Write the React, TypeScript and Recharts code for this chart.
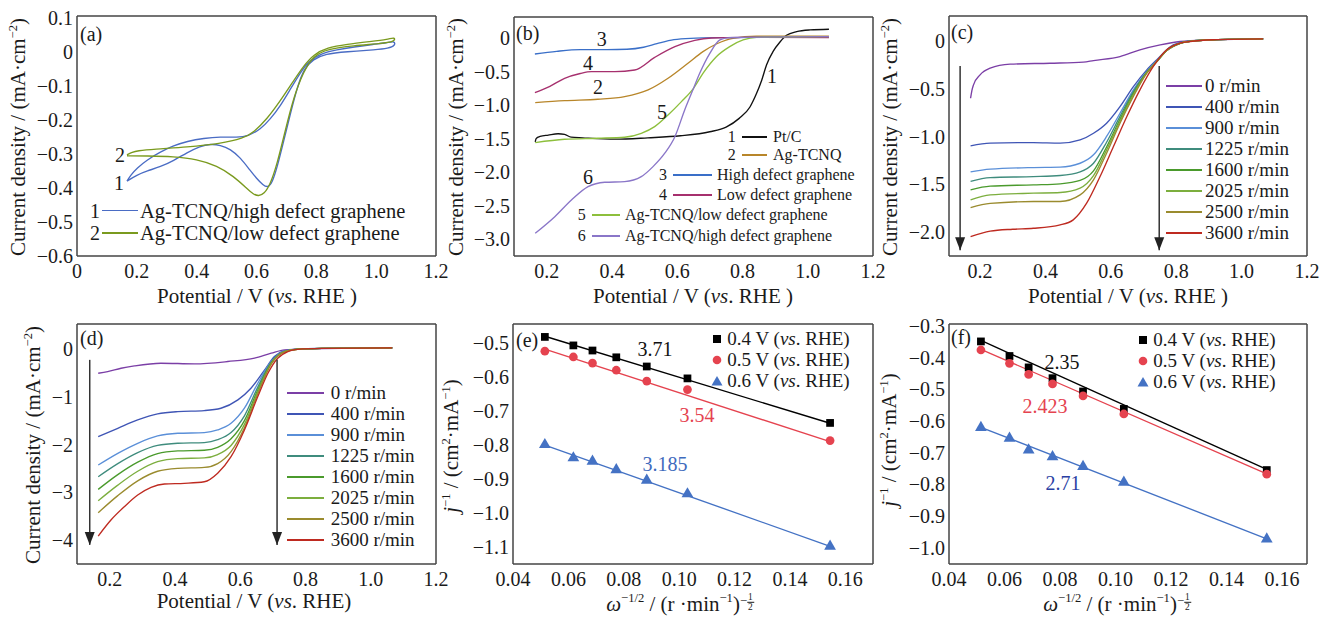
import React from "react";
import {
  LineChart,
  ComposedChart,
  Line,
  Scatter,
  XAxis,
  YAxis,
  ZAxis,
  ReferenceLine,
  ReferenceDot,
} from "recharts";

const SERIF = '"Liberation Serif", "Times New Roman", Times, serif';
const INK = "#1a1a1a";
const FRAME = "#444444";
const YW = 70; // left axis width
const TOPM = 10;
const RIGHTM = 22;
const XH = 40;

// ---------- (a) cyclic voltammograms, [potential V, j mA/cm2], loop order ----------
const cvHighDefect = [
  [0.167, -0.38], [0.18, -0.362], [0.2, -0.342], [0.234, -0.318], [0.279, -0.294], [0.323, -0.276],
  [0.368, -0.263], [0.424, -0.254], [0.479, -0.25], [0.535, -0.252], [0.574, -0.247], [0.613, -0.228],
  [0.646, -0.198], [0.68, -0.159], [0.713, -0.11], [0.747, -0.061], [0.774, -0.027], [0.813, -0.006],
  [0.869, 0.006], [0.925, 0.014], [0.992, 0.022], [1.036, 0.026], [1.062, 0.032],
  [1.064, 0.018], [1.04, 0.01], [1.0, 0.006], [0.9, 0.0], [0.83, -0.006], [0.79, -0.022],
  [0.758, -0.05], [0.736, -0.105], [0.713, -0.183], [0.691, -0.262], [0.669, -0.34], [0.652, -0.386],
  [0.638, -0.399], [0.622, -0.392], [0.6, -0.372], [0.58, -0.35], [0.546, -0.311], [0.513, -0.286],
  [0.479, -0.274], [0.446, -0.271], [0.412, -0.277], [0.368, -0.296], [0.323, -0.32], [0.279, -0.338],
  [0.234, -0.35], [0.2, -0.362], [0.167, -0.38],
];
const cvLowDefect = [
  [0.167, -0.303], [0.185, -0.295], [0.201, -0.291], [0.256, -0.286], [0.368, -0.28], [0.479, -0.27],
  [0.557, -0.254], [0.59, -0.237], [0.635, -0.198], [0.68, -0.144], [0.724, -0.085], [0.758, -0.041],
  [0.791, -0.008], [0.836, 0.012], [0.902, 0.022], [0.981, 0.03], [1.04, 0.036], [1.062, 0.043],
  [1.064, 0.03], [1.014, 0.024], [0.925, 0.018], [0.836, 0.008], [0.791, -0.012], [0.758, -0.056],
  [0.724, -0.134], [0.696, -0.232], [0.669, -0.33], [0.646, -0.39], [0.625, -0.418], [0.607, -0.424],
  [0.59, -0.419], [0.568, -0.402], [0.524, -0.366], [0.468, -0.335], [0.401, -0.316], [0.323, -0.308],
  [0.234, -0.306], [0.167, -0.306],
];
const cvNames = ["Ag-TCNQ/high defect graphene", "Ag-TCNQ/low defect graphene"];
const cvTags = ["1", "2"];
const cvColors = ["#4a6cc4", "#7a9a1e"];

// ---------- (b) LSV of the six electrodes ----------
const lsvPtC = [
  [0.165, -1.55], [0.168, -1.5], [0.18, -1.47], [0.205, -1.45], [0.235, -1.43], [0.255, -1.44],
  [0.275, -1.48], [0.31, -1.49], [0.41, -1.51], [0.51, -1.49], [0.61, -1.46], [0.7, -1.4],
  [0.75, -1.33], [0.79, -1.2], [0.823, -1.03], [0.843, -0.83], [0.859, -0.63], [0.874, -0.4],
  [0.894, -0.2], [0.915, -0.06], [0.935, 0.04], [0.966, 0.095], [1.007, 0.12], [1.065, 0.13],
];
const lsvAgTcnq = [
  [0.165, -0.965], [0.255, -0.935], [0.357, -0.915], [0.439, -0.876], [0.511, -0.776], [0.572, -0.602],
  [0.633, -0.378], [0.679, -0.204], [0.72, -0.09], [0.771, -0.005], [0.843, 0.025], [1.065, 0.025],
];
const lsvHighDefect = [
  [0.164, -0.239], [0.231, -0.199], [0.303, -0.174], [0.385, -0.174], [0.446, -0.169], [0.497, -0.139],
  [0.538, -0.085], [0.59, -0.025], [0.641, -0.005], [0.744, 0.005], [1.065, 0.015],
];
const lsvLowDefect = [
  [0.164, -0.816], [0.21, -0.721], [0.255, -0.602], [0.303, -0.53], [0.337, -0.502], [0.409, -0.502],
  [0.47, -0.478], [0.531, -0.29], [0.593, -0.13], [0.654, -0.035], [0.705, 0.0], [0.8, 0.01], [1.065, 0.005],
];
const lsvAgLow = [
  [0.165, -1.562], [0.255, -1.512], [0.357, -1.497], [0.439, -1.482], [0.49, -1.423], [0.531, -1.323],
  [0.572, -1.149], [0.613, -0.95], [0.65, -0.751], [0.68, -0.52], [0.72, -0.279], [0.761, -0.129],
  [0.802, -0.03], [0.843, 0.01], [1.065, 0.02],
];
const lsvAgHigh = [
  [0.165, -2.915], [0.225, -2.667], [0.276, -2.418], [0.327, -2.219], [0.378, -2.154], [0.439, -2.144],
  [0.49, -2.07], [0.526, -1.92], [0.562, -1.72], [0.593, -1.473], [0.623, -1.075], [0.646, -0.8],
  [0.669, -0.527], [0.7, -0.229], [0.731, -0.03], [0.761, 0.005], [1.065, 0.02],
];
const lsvNames = [
  "Pt/C", "Ag-TCNQ", "High defect graphene", "Low defect graphene",
  "Ag-TCNQ/low defect graphene", "Ag-TCNQ/high defect graphene",
];
const lsvTags = ["1", "2", "3", "4", "5", "6"];
const lsvColors = ["#111111", "#b8862a", "#3a6fc8", "#a6306e", "#8dbf3c", "#8a76c8"];

// ---------- (c) Ag-TCNQ/low defect graphene at rotation rates ----------
const c0 = [
  [0.171, -0.6], [0.175, -0.52], [0.18, -0.46], [0.2, -0.356], [0.231, -0.286], [0.292, -0.244],
  [0.414, -0.234], [0.516, -0.223], [0.547, -0.206], [0.628, -0.164], [0.689, -0.094], [0.751, -0.042],
  [0.812, -0.007], [0.913, 0.01], [1.066, 0.021],
];
const c400 = [
  [0.171, -1.098], [0.231, -1.07], [0.363, -1.064], [0.445, -1.07], [0.506, -1.036], [0.547, -0.966],
  [0.587, -0.861], [0.628, -0.687], [0.669, -0.478], [0.71, -0.303], [0.74, -0.199], [0.791, -0.042],
  [0.842, 0.0], [0.913, 0.012], [1.066, 0.021],
];
const c900 = [
  [0.171, -1.37], [0.231, -1.342], [0.363, -1.325], [0.445, -1.321], [0.506, -1.28], [0.547, -1.192],
  [0.587, -1.0], [0.628, -0.757], [0.669, -0.513], [0.71, -0.32], [0.74, -0.21], [0.771, -0.1],
  [0.812, -0.025], [0.842, -0.005], [0.913, 0.012], [1.066, 0.021],
];
const c1225 = [
  [0.171, -1.47], [0.231, -1.43], [0.363, -1.42], [0.445, -1.408], [0.506, -1.37], [0.547, -1.28],
  [0.587, -1.06], [0.628, -0.79], [0.669, -0.53], [0.71, -0.325], [0.74, -0.215], [0.771, -0.1],
  [0.812, -0.025], [0.842, -0.005], [0.913, 0.012], [1.066, 0.021],
];
const c1600 = [
  [0.171, -1.558], [0.231, -1.52], [0.363, -1.506], [0.445, -1.495], [0.506, -1.46], [0.547, -1.36],
  [0.587, -1.11], [0.628, -0.82], [0.669, -0.55], [0.71, -0.33], [0.74, -0.22], [0.771, -0.1],
  [0.812, -0.025], [0.842, -0.005], [0.913, 0.012], [1.066, 0.021],
];
const c2025 = [
  [0.171, -1.663], [0.231, -1.61], [0.363, -1.593], [0.445, -1.586], [0.506, -1.54], [0.547, -1.41],
  [0.587, -1.14], [0.628, -0.84], [0.669, -0.565], [0.71, -0.335], [0.74, -0.22], [0.771, -0.1],
  [0.812, -0.025], [0.842, -0.005], [0.913, 0.012], [1.066, 0.021],
];
const c2500 = [
  [0.171, -1.744], [0.231, -1.7], [0.363, -1.68], [0.445, -1.68], [0.506, -1.611], [0.547, -1.454],
  [0.587, -1.175], [0.628, -0.861], [0.669, -0.582], [0.71, -0.338], [0.74, -0.216], [0.771, -0.1],
  [0.812, -0.025], [0.842, -0.005], [0.913, 0.012], [1.066, 0.021],
];
const c3600 = [
  [0.171, -2.047], [0.231, -1.99], [0.3, -1.97], [0.363, -1.96], [0.445, -1.925], [0.485, -1.872],
  [0.526, -1.698], [0.567, -1.419], [0.608, -1.105], [0.649, -0.791], [0.689, -0.512], [0.73, -0.268],
  [0.771, -0.094], [0.812, -0.024], [0.842, -0.007], [0.913, 0.012], [1.066, 0.021],
];

// ---------- (d) Ag-TCNQ/high defect graphene at rotation rates ----------
const d0 = [
  [0.165, -0.51], [0.194, -0.475], [0.235, -0.405], [0.276, -0.356], [0.357, -0.3], [0.46, -0.314],
  [0.562, -0.265], [0.644, -0.195], [0.695, -0.09], [0.736, -0.02], [0.807, 0.0], [1.066, 0.02],
];
const d400 = [
  [0.165, -1.836], [0.225, -1.661], [0.286, -1.487], [0.347, -1.361], [0.409, -1.312], [0.49, -1.291],
  [0.541, -1.242], [0.593, -1.068], [0.633, -0.824], [0.675, -0.44], [0.705, -0.161], [0.736, -0.04],
  [0.776, -0.005], [0.85, 0.01], [1.066, 0.02],
];
const d900 = [
  [0.165, -2.43], [0.225, -2.185], [0.286, -1.975], [0.347, -1.822], [0.409, -1.766], [0.49, -1.752],
  [0.531, -1.696], [0.572, -1.557], [0.613, -1.242], [0.654, -0.719], [0.695, -0.265], [0.736, -0.05],
  [0.776, -0.005], [0.85, 0.01], [1.066, 0.02],
];
const d1225 = [
  [0.165, -2.674], [0.225, -2.4], [0.286, -2.17], [0.347, -2.02], [0.409, -1.975], [0.49, -1.96],
  [0.531, -1.9], [0.572, -1.75], [0.613, -1.4], [0.654, -0.8], [0.695, -0.28], [0.736, -0.055],
  [0.776, -0.006], [0.85, 0.01], [1.066, 0.02],
];
const d1600 = [
  [0.165, -2.939], [0.225, -2.63], [0.286, -2.37], [0.347, -2.19], [0.409, -2.135], [0.49, -2.12],
  [0.531, -2.06], [0.572, -1.88], [0.613, -1.5], [0.654, -0.86], [0.695, -0.3], [0.736, -0.06],
  [0.776, -0.007], [0.85, 0.01], [1.066, 0.02],
];
const d2025 = [
  [0.165, -3.176], [0.225, -2.85], [0.286, -2.56], [0.347, -2.36], [0.409, -2.295], [0.49, -2.28],
  [0.531, -2.21], [0.572, -2.02], [0.613, -1.58], [0.654, -0.9], [0.695, -0.31], [0.736, -0.06],
  [0.776, -0.008], [0.85, 0.01], [1.066, 0.02],
];
const d2500 = [
  [0.165, -3.427], [0.225, -3.07], [0.286, -2.76], [0.347, -2.56], [0.409, -2.5], [0.49, -2.48],
  [0.531, -2.4], [0.572, -2.15], [0.613, -1.65], [0.654, -0.94], [0.695, -0.32], [0.736, -0.06],
  [0.776, -0.009], [0.85, 0.01], [1.066, 0.02],
];
const d3600 = [
  [0.165, -3.916], [0.204, -3.58], [0.245, -3.302], [0.286, -3.058], [0.327, -2.897], [0.368, -2.827],
  [0.429, -2.813], [0.49, -2.78], [0.531, -2.6], [0.572, -2.255], [0.613, -1.696], [0.654, -0.998],
  [0.685, -0.51], [0.715, -0.196], [0.746, -0.056], [0.776, -0.01], [0.85, 0.01], [1.066, 0.02],
];
const rpmLabels = ["0 r/min", "400 r/min", "900 r/min", "1225 r/min", "1600 r/min", "2025 r/min", "2500 r/min", "3600 r/min"];
const rpmColors = ["#7b3fa6", "#3f55b5", "#5a8fd8", "#3f8c7d", "#4a9a2c", "#7cae3e", "#9a8b2e", "#be2a20"];

// arrows marking increasing rotation rate: [potential, start j, tip j]
const cArrows = [[0.139, -0.262, -2.19], [0.748, -0.262, -2.19]];
const dArrows = [[0.139, -0.23, -4.1], [0.713, -0.23, -4.1]];

// ---------- (e)/(f) Koutecky-Levich plots ----------
const omega = [0.0515, 0.0618, 0.0687, 0.0773, 0.0883, 0.103, 0.1545];
const fitOmega = [0.0515, 0.1545];
const e04 = [-0.482, -0.507, -0.522, -0.542, -0.569, -0.604, -0.735];
const e05 = [-0.524, -0.541, -0.559, -0.58, -0.612, -0.637, -0.787];
const e06 = [-0.799, -0.838, -0.848, -0.873, -0.904, -0.944, -1.098];
const eFit04 = [-0.48, -0.736];
const eFit05 = [-0.518, -0.79];
const eFit06 = [-0.8, -1.098];
const f04 = [-0.349, -0.395, -0.431, -0.465, -0.507, -0.562, -0.755];
const f05 = [-0.376, -0.418, -0.453, -0.483, -0.521, -0.578, -0.768];
const f06 = [-0.621, -0.655, -0.692, -0.713, -0.744, -0.794, -0.973];
const fFit04 = [-0.346, -0.753];
const fFit05 = [-0.374, -0.767];
const fFit06 = [-0.62, -0.972];
const klNames = ["0.4 V", "0.5 V", "0.6 V"];
const klColors = ["#000000", "#e5434f", "#4472c4"];
const klShapes = ["square", "circle", "triangle"];
const eSlopes = ["3.71", "3.54", "3.185"];
const fSlopes = ["2.35", "2.423", "2.71"];

// ---------- helpers ----------
const pts = (a) => a.map(([v, j]) => ({ v, j }));
const kl = (ys, xs = omega) => xs.map((w, i) => ({ w, inv: ys[i] }));
const fmt = (d) => (n) => (Math.abs(n) < 1e-9 ? "0" : n.toFixed(d).replace("-", "\u2212"));
const tickStyle = { fontSize: 20, fill: INK, fontFamily: SERIF };
const frameLine = { stroke: FRAME, strokeWidth: 1.5 };

// plot rectangles on the page
const R = {
  a: { l: 77, t: 16, r: 436, b: 256 },
  b: { l: 514, t: 17, r: 873, b: 256 },
  c: { l: 949, t: 16, r: 1307, b: 256 },
  d: { l: 77, t: 324, r: 436, b: 564 },
  e: { l: 513, t: 324, r: 873, b: 564 },
  f: { l: 949, t: 324, r: 1307, b: 564 },
};

function axes(c) {
  return [
    <XAxis key="xb" xAxisId={0} type="number" dataKey={c.xKey} domain={c.xDomain} ticks={c.xTicks}
      interval={0} allowDataOverflow tickFormatter={c.xFmt} tick={tickStyle} tickLine={false}
      tickSize={0} tickMargin={8} height={XH} axisLine={frameLine} />,
    <YAxis key="yl" yAxisId={0} type="number" dataKey={c.yKey} domain={c.yDomain} ticks={c.yTicks}
      interval={0} allowDataOverflow tickFormatter={c.yFmt} tick={tickStyle} tickLine={false}
      tickSize={0} tickMargin={4} width={YW} axisLine={frameLine} />,
    <XAxis key="xm" xAxisId="xm" type="number" domain={c.xDomain} ticks={c.xMinor} interval={0}
      allowDataOverflow mirror tick={false} tickSize={4} tickLine={frameLine} axisLine={false} />,
    <YAxis key="ym" yAxisId="ym" type="number" domain={c.yDomain} ticks={c.yMinor} interval={0}
      allowDataOverflow mirror tick={false} tickSize={4} tickLine={frameLine} axisLine={false} />,
    <XAxis key="xt" xAxisId="xt" orientation="top" type="number" domain={c.xDomain} mirror
      allowDataOverflow tick={false} tickLine={false} axisLine={frameLine} />,
    <YAxis key="yr" yAxisId="yr" orientation="right" type="number" domain={c.yDomain} mirror
      allowDataOverflow tick={false} tickLine={false} axisLine={frameLine} />,
  ];
}

const size = (rc) => ({ width: rc.r - rc.l + YW + RIGHTM, height: rc.b - rc.t + TOPM + XH });
const margin = { top: TOPM, right: RIGHTM, bottom: 0, left: 0 };
const place = (rc) => ({ position: "absolute" as const, left: rc.l - YW, top: rc.t - TOPM });

const potTicks = [0.2, 0.4, 0.6, 0.8, 1.0, 1.2];
const potMinor = [0.3, 0.5, 0.7, 0.9, 1.1];
const klXTicks = [0.04, 0.06, 0.08, 0.1, 0.12, 0.14, 0.16];
const klXMinor = [0.05, 0.06, 0.07, 0.08, 0.09, 0.1, 0.11, 0.12, 0.13, 0.14, 0.15, 0.16];

const lineProps = { dot: false, isAnimationActive: false, strokeWidth: 1.35, activeDot: false };

const ArrowHead = (p) => (
  <path d={`M${p.cx},${p.cy} L${p.cx - 5},${p.cy - 13} L${p.cx + 5},${p.cy - 13} Z`} fill="#222" />
);

function arrows(list) {
  return list.flatMap(([x, y1, y2], i) => [
    <ReferenceLine key={`al${i}`} segment={[{ x, y: y1 }, { x, y: y2 }]} stroke="#333" strokeWidth={1.5} />,
    <ReferenceDot key={`ad${i}`} x={x} y={y2} r={0} shape={ArrowHead} />,
  ]);
}

// ---------- text overlay helpers ----------
function Txt({ x, y, children, size: fs = 20, color = INK, center = false }) {
  return (
    <span
      style={{
        position: "absolute", left: x, top: y, fontSize: fs, color, fontFamily: SERIF, lineHeight: 0.82,
        whiteSpace: "nowrap", transform: center ? "translate(-50%,-50%)" : "translate(0,-50%)",
      }}
    >
      {children}
    </span>
  );
}

function VTitle({ x, y, children, size: fs = 21 }) {
  return (
    <span
      style={{
        position: "absolute", left: x, top: y, fontSize: fs, color: INK, fontFamily: SERIF, lineHeight: 0.82,
        whiteSpace: "nowrap", transform: "translate(-50%,-50%) rotate(-90deg)",
      }}
    >
      {children}
    </span>
  );
}

function Swatch({ x1, x2, y, color }) {
  return <div style={{ position: "absolute", left: x1, top: y - 0.75, width: x2 - x1, height: 1.5, background: color }} />;
}

function Marker({ x, y, kind, color }) {
  return (
    <svg width={12} height={12} style={{ position: "absolute", left: x - 6, top: y - 6 }}>
      {kind === "square" && <rect x={2} y={2} width={8} height={8} fill={color} />}
      {kind === "circle" && <circle cx={6} cy={6} r={4.3} fill={color} />}
      {kind === "triangle" && <path d="M6,1 L11.5,10.5 L0.5,10.5 Z" fill={color} />}
    </svg>
  );
}

const sup = { fontSize: "0.6em", verticalAlign: "0.7em", lineHeight: 0 };
const yTitleCur = (
  <>Current density / (mA·cm<span style={sup}>−2</span>)</>
);
const yTitleInv = (
  <><i>j</i><span style={sup}>−1</span> / (cm<span style={sup}>2</span>·mA<span style={sup}>−1</span>)</>
);
const half = (
  <span style={{ display: "inline-flex", flexDirection: "column", alignItems: "center", fontSize: "0.75em", lineHeight: 0.9, verticalAlign: "middle" }}>
    <span style={{ borderBottom: "1px solid #1a1a1a", padding: "0 1px" }}>1</span>
    <span>2</span>
  </span>
);
const xTitleOmega = (
  <>
    <i>ω</i><span style={sup}>−1/2</span> / (r ·min<span style={sup}>−1</span>)
    <span style={{ fontSize: "0.6em", verticalAlign: "0.5em", lineHeight: 0 }}>−{half}</span>
  </>
);
const xTitlePot = (closeSpace) => (
  <>Potential / V (<i>vs</i>. RHE{closeSpace ? " " : ""})</>
);

const bLegendRows = [
  { y: 137, n: 731.7, x1: 741.7, x2: 766.7, tx: 773 },
  { y: 155, n: 731.7, x1: 741.7, x2: 766.7, tx: 773 },
  { y: 175, n: 663, x1: 673, x2: 712, tx: 717 },
  { y: 195, n: 663, x1: 673, x2: 712, tx: 717 },
  { y: 215, n: 581.7, x1: 591.7, x2: 620, tx: 625 },
  { y: 236, n: 581.7, x1: 591.7, x2: 620, tx: 625 },
];
const bCurveTags = [
  { x: 772, y: 76 }, { x: 598, y: 87 }, { x: 601.7, y: 39 },
  { x: 588, y: 63 }, { x: 662, y: 112 }, { x: 588, y: 177 },
];
const cLegendY = [86, 107, 128, 149, 170, 191, 212, 233];
const dLegendY = [393, 414, 435, 456, 477, 498, 519, 540];
const eLegendY = [339, 360, 381];
const fLegendY = [340, 361, 382];

export default function App() {
  const cSeries = [c0, c400, c900, c1225, c1600, c2025, c2500, c3600];
  const dSeries = [d0, d400, d900, d1225, d1600, d2025, d2500, d3600];
  const bSeries = [lsvPtC, lsvAgTcnq, lsvHighDefect, lsvLowDefect, lsvAgLow, lsvAgHigh];
  const eSets = [[e04, eFit04], [e05, eFit05], [e06, eFit06]];
  const fSets = [[f04, fFit04], [f05, fFit05], [f06, fFit06]];

  const potAxes = (xDomain, yDomain, xTicks, xMinor, yTicks, yMinor, yDec) => ({
    xKey: "v", yKey: "j", xDomain, yDomain, xTicks, yTicks, xMinor, yMinor, xFmt: fmt(1), yFmt: fmt(yDec),
  });
  const klAxes = (xMax, yDomain, yTicks, yMinor) => ({
    xKey: "w", yKey: "inv", xDomain: [0.04, xMax], yDomain,
    xTicks: klXTicks, yTicks, xMinor: klXMinor, yMinor, xFmt: fmt(2), yFmt: fmt(1),
  });

  return (
    <div style={{ position: "absolute", left: 0, top: 0, width: 1322, height: 619, overflow: "hidden", background: "#fff" }}>
      {/* (a) */}
      <div style={place(R.a)}>
        <LineChart {...size(R.a)} margin={margin}>
          {axes(potAxes([0, 1.2], [-0.6, 0.105], [0, 0.2, 0.4, 0.6, 0.8, 1.0, 1.2], [0.1, 0.3, 0.5, 0.7, 0.9, 1.1],
            [0.1, 0, -0.1, -0.2, -0.3, -0.4, -0.5, -0.6], [0.05, -0.05, -0.15, -0.25, -0.35, -0.45, -0.55], 1))}
          {[cvHighDefect, cvLowDefect].map((s, i) => (
            <Line key={i} data={pts(s)} dataKey="j" type="basis" stroke={cvColors[i]} {...lineProps} />
          ))}
        </LineChart>
      </div>

      {/* (b) */}
      <div style={place(R.b)}>
        <LineChart {...size(R.b)} margin={margin}>
          {axes(potAxes([0.1, 1.2], [-3.254, 0.313], potTicks, potMinor,
            [0, -0.5, -1.0, -1.5, -2.0, -2.5, -3.0], [-0.25, -0.75, -1.25, -1.75, -2.25, -2.75], 1))}
          {bSeries.map((s, i) => (
            <Line key={i} data={pts(s)} dataKey="j" type="monotone" stroke={lsvColors[i]} {...lineProps} />
          ))}
        </LineChart>
      </div>

      {/* (c) */}
      <div style={place(R.c)}>
        <LineChart {...size(R.c)} margin={margin}>
          {axes(potAxes([0.105, 1.2], [-2.25, 0.26], potTicks, potMinor,
            [0, -0.5, -1.0, -1.5, -2.0], [-0.25, -0.75, -1.25, -1.75], 1))}
          {cSeries.map((s, i) => (
            <Line key={i} data={pts(s)} dataKey="j" type="monotone" stroke={rpmColors[i]} {...lineProps} />
          ))}
          {arrows(cArrows)}
        </LineChart>
      </div>

      {/* (d) */}
      <div style={place(R.d)}>
        <LineChart {...size(R.d)} margin={margin}>
          {axes(potAxes([0.1, 1.2], [-4.5, 0.52], potTicks, potMinor,
            [0, -1, -2, -3, -4], [-0.5, -1.5, -2.5, -3.5], 0))}
          {dSeries.map((s, i) => (
            <Line key={i} data={pts(s)} dataKey="j" type="monotone" stroke={rpmColors[i]} {...lineProps} />
          ))}
          {arrows(dArrows)}
        </LineChart>
      </div>

      {/* (e) */}
      <div style={place(R.e)}>
        <ComposedChart {...size(R.e)} margin={margin}>
          {axes(klAxes(0.17, [-1.15, -0.444], [-0.5, -0.6, -0.7, -0.8, -0.9, -1.0, -1.1],
            [-0.55, -0.65, -0.75, -0.85, -0.95, -1.05]))}
          <ZAxis type="number" range={[60, 60]} />
          {eSets.map(([ys, fit], i) => (
            <Line key={`l${i}`} data={kl(fit, fitOmega)} dataKey="inv" type="linear" stroke={klColors[i]} {...lineProps} />
          ))}
          {eSets.map(([ys], i) => (
            <Scatter key={`s${i}`} data={kl(ys)} dataKey="inv" shape={klShapes[i] as any} fill={klColors[i]} isAnimationActive={false} />
          ))}
        </ComposedChart>
      </div>

      {/* (f) */}
      <div style={place(R.f)}>
        <ComposedChart {...size(R.f)} margin={margin}>
          {axes(klAxes(0.169, [-1.0515, -0.294], [-0.3, -0.4, -0.5, -0.6, -0.7, -0.8, -0.9, -1.0],
            [-0.35, -0.45, -0.55, -0.65, -0.75, -0.85, -0.95]))}
          <ZAxis type="number" range={[60, 60]} />
          {fSets.map(([ys, fit], i) => (
            <Line key={`l${i}`} data={kl(fit, fitOmega)} dataKey="inv" type="linear" stroke={klColors[i]} {...lineProps} />
          ))}
          {fSets.map(([ys], i) => (
            <Scatter key={`s${i}`} data={kl(ys)} dataKey="inv" shape={klShapes[i] as any} fill={klColors[i]} isAnimationActive={false} />
          ))}
        </ComposedChart>
      </div>

      {/* ---- text overlays ---- */}
      <Txt x={80} y={34}>(a)</Txt>
      <Txt x={516} y={33}>(b)</Txt>
      <Txt x={951} y={32}>(c)</Txt>
      <Txt x={80} y={338}>(d)</Txt>
      <Txt x={516} y={340}>(e)</Txt>
      <Txt x={951} y={337}>(f)</Txt>

      <VTitle x={19} y={137}>{yTitleCur}</VTitle>
      <VTitle x={457} y={137}>{yTitleCur}</VTitle>
      <VTitle x={891} y={137}>{yTitleCur}</VTitle>
      <VTitle x={34} y={445}>{yTitleCur}</VTitle>
      <VTitle x={452} y={446}>{yTitleInv}</VTitle>
      <VTitle x={890} y={440}>{yTitleInv}</VTitle>

      <Txt x={257} y={297} size={21} center>{xTitlePot(true)}</Txt>
      <Txt x={693} y={297} size={21} center>{xTitlePot(true)}</Txt>
      <Txt x={1128} y={297} size={21} center>{xTitlePot(true)}</Txt>
      <Txt x={254} y={602} size={21} center>{xTitlePot(false)}</Txt>
      <Txt x={680} y={603} size={21} center>{xTitleOmega}</Txt>
      <Txt x={1117} y={603} size={21} center>{xTitleOmega}</Txt>

      {/* (a) curve tags and legend */}
      <Txt x={119} y={183} center>1</Txt>
      <Txt x={120} y={155} center>2</Txt>
      {cvNames.map((n, i) => (
        <React.Fragment key={n}>
          <Txt x={95} y={210.5 + i * 22.5} center>{cvTags[i]}</Txt>
          <Swatch x1={102} x2={138} y={210.5 + i * 22.5} color={cvColors[i]} />
          <Txt x={140} y={210.5 + i * 22.5} size={20.5}>{n}</Txt>
        </React.Fragment>
      ))}

      {/* (b) curve tags and legend */}
      {bCurveTags.map((p, i) => (
        <Txt key={i} x={p.x} y={p.y} center>{lsvTags[i]}</Txt>
      ))}
      {bLegendRows.map((r, i) => (
        <React.Fragment key={i}>
          <Txt x={r.n} y={r.y} size={16} center>{lsvTags[i]}</Txt>
          <Swatch x1={r.x1} x2={r.x2} y={r.y} color={lsvColors[i]} />
          <Txt x={r.tx} y={r.y} size={16}>{lsvNames[i]}</Txt>
        </React.Fragment>
      ))}

      {/* (c), (d) legends */}
      {rpmLabels.map((n, i) => (
        <React.Fragment key={`c${i}`}>
          <Swatch x1={1166} x2={1202} y={cLegendY[i]} color={rpmColors[i]} />
          <Txt x={1205} y={cLegendY[i]} size={19}>{n}</Txt>
          <Swatch x1={287} x2={324} y={dLegendY[i]} color={rpmColors[i]} />
          <Txt x={330.7} y={dLegendY[i]} size={19}>{n}</Txt>
        </React.Fragment>
      ))}

      {/* (e), (f) legends and slope labels */}
      {klNames.map((n, i) => (
        <React.Fragment key={`k${i}`}>
          <Marker x={716.7} y={eLegendY[i]} kind={klShapes[i]} color={klColors[i]} />
          <Txt x={727.3} y={eLegendY[i]} size={19}>{n} (<i>vs</i>. RHE)</Txt>
          <Marker x={1143.3} y={fLegendY[i]} kind={klShapes[i]} color={klColors[i]} />
          <Txt x={1153.3} y={fLegendY[i]} size={19}>{n} (<i>vs</i>. RHE)</Txt>
        </React.Fragment>
      ))}
      <Txt x={655} y={349} center color="#111">{eSlopes[0]}</Txt>
      <Txt x={697} y={415} center color="#e5434f">{eSlopes[1]}</Txt>
      <Txt x={665} y={464} center color="#3f6bbd">{eSlopes[2]}</Txt>
      <Txt x={1062} y={362} center color="#111">{fSlopes[0]}</Txt>
      <Txt x={1045} y={406} center color="#e5434f">{fSlopes[1]}</Txt>
      <Txt x={1063} y={483} center color="#2a3fa3">{fSlopes[2]}</Txt>
    </div>
  );
}
